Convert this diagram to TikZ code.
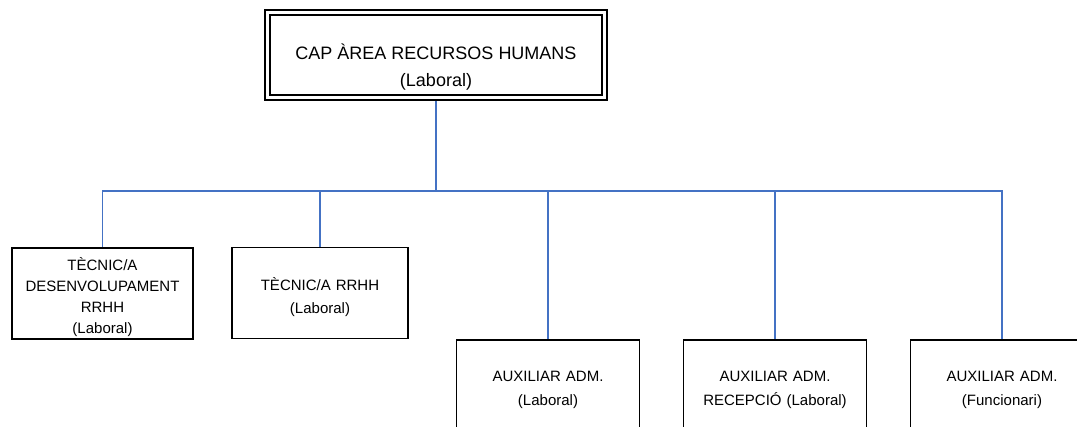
\documentclass[tikz,border=0pt]{standalone}
\usepackage{fontspec}
\setmainfont{Liberation Sans}
\definecolor{blau}{HTML}{4472C4}

\tikzstyle{d} = [rectangle, draw, double, line width=1.4pt, double distance=3.6pt, minimum width=337pt, minimum height=85pt, align=center, font=\fontsize{18}{27}\selectfont, inner sep=0pt]
\tikzstyle{w} = [rectangle, draw, line width=1.4pt, text width=170pt, align=center, font=\fontsize{15}{22}\selectfont, inner sep=0pt]
\tikzstyle{s} = [w, minimum width=181pt, minimum height=91pt]
\tikzstyle{t} = [w, minimum width=183pt, minimum height=100pt, font=\fontsize{15}{24}\selectfont]
\tikzstyle{e} = [draw=blau, line width=1.6pt]

\begin{document}
\begin{tikzpicture}[x=1pt, y=1pt, node distance=227pt]
	\useasboundingbox (0,0) rectangle (1077,-427);

	\node [d] (cap) at (436,-55) {\rule{0pt}{40pt}CAP ÀREA RECURSOS HUMANS\\(Laboral)};
	\node [s, font=\fontsize{15}{21}\selectfont] (a) at (102.5,-293.5) {\rule{0pt}{21pt}TÈCNIC/A\\DESENVOLUPAMENT\\RRHH\\(Laboral)};
	\node [s, minimum width=176pt, font=\fontsize{15}{23}\selectfont] (b) at (320,-293) {\rule{0pt}{21pt}TÈCNIC/A RRHH\\(Laboral)};
	\node [t] (c) at (548,-390) {AUXILIAR ADM.\\(Laboral)};
	\node [t, right of=c] (f) {AUXILIAR ADM.\\RECEPCIÓ (Laboral)};
	\node [t, right of=f] (g) {AUXILIAR ADM.\\(Funcionari)};
	\coordinate (bus) at (436,-191);

	\draw [e, shorten <=3pt] (cap.south) -- (bus);
	\draw [e] (bus) -| (a.north);
	\draw [e] (bus) -| (b.north);
	\draw [e] (bus) -| (c.north);
	\draw [e] (bus) -| (f.north);
	\draw [e] (bus) -| (g.north);

\end{tikzpicture}
\end{document}
